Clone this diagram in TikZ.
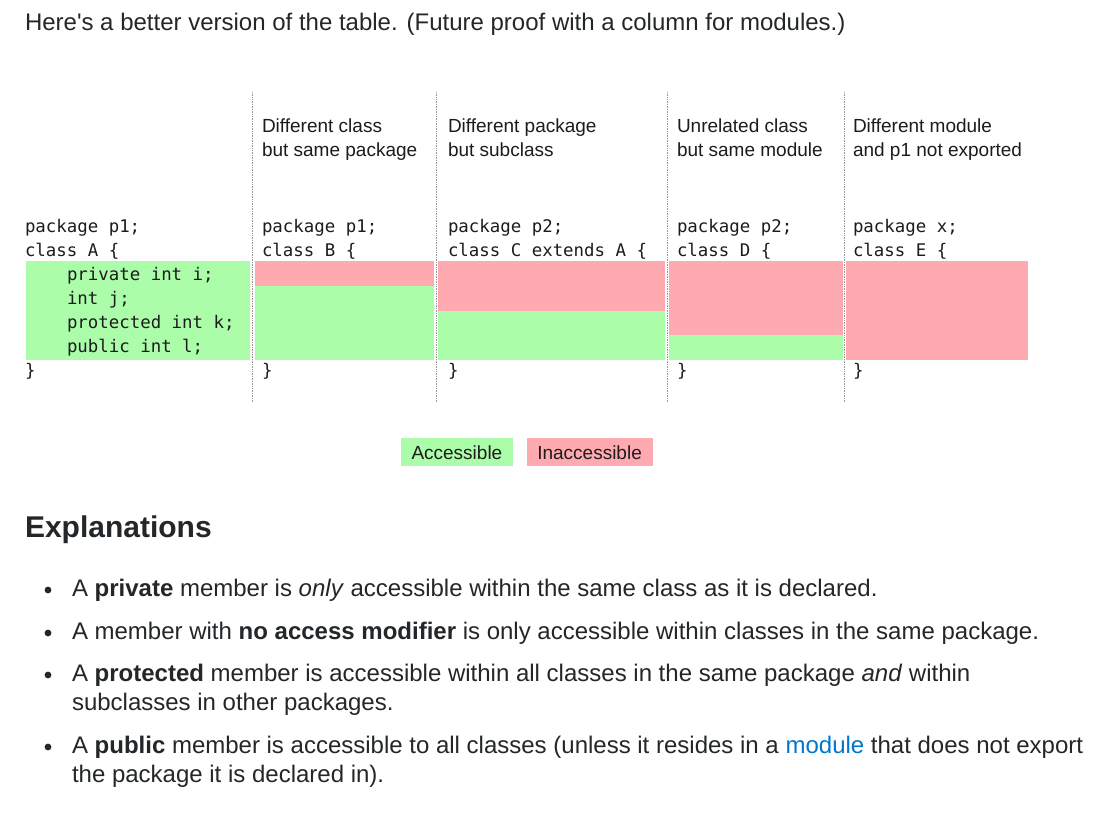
\documentclass[tikz,border=0pt]{standalone}
\usepackage{fontspec}
\setmainfont{Liberation Sans}
\newfontfamily\codefont{DejaVu Sans Mono}
\definecolor{acc}{RGB}{171,253,170}
\definecolor{inacc}{RGB}{255,170,176}
\definecolor{bodytext}{RGB}{36,39,41}
\definecolor{linkblue}{RGB}{0,119,204}
\definecolor{sepgray}{RGB}{150,150,150}
\definecolor{codegray}{RGB}{28,28,28}
\begin{document}
\begin{tikzpicture}[x=1pt,y=-1pt,
  txt/.style={anchor=base west, inner sep=0pt, outer sep=0pt},
  code/.style={txt, font=\codefont\fontsize{17.4}{24}\selectfont, text=codegray},
  hdr/.style={txt, font=\fontsize{19}{25}\selectfont, text=codegray},
  body/.style={txt, font=\fontsize{24}{29}\selectfont, text=bodytext},
  sepline/.style={draw=sepgray, dash pattern=on 1pt off 0.7pt, line width=1.5pt},
  accbox/.style={fill=acc, draw=none},
  inaccbox/.style={fill=inacc, draw=none},
  bulletdot/.style={fill=bodytext, draw=none}
]
\useasboundingbox[fill=white] (0,0) rectangle (1106,814);

% intro line
\node[body] (intro) at (25,30) {Here\textquotesingle s a better version of the table. (Future proof with a column for modules.)};

% coloured cells
\fill[accbox] (26,261) rectangle (250,360);
\fill[inaccbox] (255,261) rectangle (434,285.75);
\fill[accbox] (255,285.75) rectangle (434,360);
\fill[inaccbox] (438,261) rectangle (665,310.5);
\fill[accbox] (438,310.5) rectangle (665,360);
\fill[inaccbox] (669,261) rectangle (843,335.25);
\fill[accbox] (669,335.25) rectangle (843,360);
\fill[inaccbox] (846,261) rectangle (1028,360);

% separators
\coordinate (s1t) at (252.5,92); \coordinate (s1b) at (252.5,402.5);
\coordinate (s2t) at (436.5,92); \coordinate (s2b) at (436.5,402.5);
\coordinate (s3t) at (667.3,92); \coordinate (s3b) at (667.3,402.5);
\coordinate (s4t) at (844.3,92); \coordinate (s4b) at (844.3,402.5);
\draw[sepline] (s1t) -- (s1b);
\draw[sepline] (s2t) -- (s2b);
\draw[sepline] (s3t) -- (s3b);
\draw[sepline] (s4t) -- (s4b);

% column headers
\node[hdr] (hB1) at (262,132) {Different class};
\node[hdr] (hB2) at (262,156.5) {but same package};
\node[hdr] (hC1) at (448,132) {Different package};
\node[hdr] (hC2) at (448,156.5) {but subclass};
\node[hdr] (hD1) at (677,132) {Unrelated class};
\node[hdr] (hD2) at (677,156.5) {but same module};
\node[hdr] (hE1) at (853,132) {Different module};
\node[hdr] (hE2) at (853,156.5) {and p1 not exported};

% class A
\node[code] (a1) at (25,232.5) {package p1;};
\node[code] (a2) at (25,256.5) {class A \{};
\node[code] (a3) at (67,280.5) {private int i;};
\node[code] (a4) at (67,304.5) {int j;};
\node[code] (a5) at (67,328.5) {protected int k;};
\node[code] (a6) at (67,352.5) {public int l;};
\node[code] (a7) at (25,376.5) {\}};

% class B
\node[code] (b1) at (262,232.5) {package p1;};
\node[code] (b2) at (262,256.5) {class B \{};
\node[code] (b3) at (262,376.5) {\}};

% class C
\node[code] (c1) at (448,232.5) {package p2;};
\node[code] (c2) at (448,256.5) {class C extends A \{};
\node[code] (c3) at (448,376.5) {\}};

% class D
\node[code] (d1) at (677,232.5) {package p2;};
\node[code] (d2) at (677,256.5) {class D \{};
\node[code] (d3) at (677,376.5) {\}};

% class E
\node[code] (e1) at (853,232.5) {package x;};
\node[code] (e2) at (853,256.5) {class E \{};
\node[code] (e3) at (853,376.5) {\}};

% legend
\fill[accbox] (400.5,438.3) rectangle (512.7,465.5);
\fill[inaccbox] (526.7,438.3) rectangle (653.3,465.5);
\node[hdr] (lacc) at (411.5,459.5) {Accessible};
\node[hdr] (linacc) at (537.3,459.5) {Inaccessible};

% explanations
\node[txt, font=\fontsize{30}{36}\selectfont\bfseries, text=bodytext] (expl) at (25,537) {Explanations};

\fill[bulletdot] (48,590) circle (3.4);
\node[body] (p1) at (72,596) {A \textbf{private} member is \textit{only} accessible within the same class as it is declared.};
\fill[bulletdot] (48,633) circle (3.4);
\node[body] (p2) at (72,639) {A member with \textbf{no access modifier} is only accessible within classes in the same package.};
\fill[bulletdot] (48,675) circle (3.4);
\node[body] (p3a) at (72,681) {A \textbf{protected} member is accessible within all classes in the same package \textit{and} within};
\node[body] (p3b) at (72,710) {subclasses in other packages.};
\fill[bulletdot] (48,747) circle (3.4);
\node[body] (p4a) at (72,753) {A \textbf{public} member is accessible to all classes (unless it resides in a \textcolor{linkblue}{module} that does not export};
\node[body] (p4b) at (72,782) {the package it is declared in).};
\end{tikzpicture}
\end{document}
